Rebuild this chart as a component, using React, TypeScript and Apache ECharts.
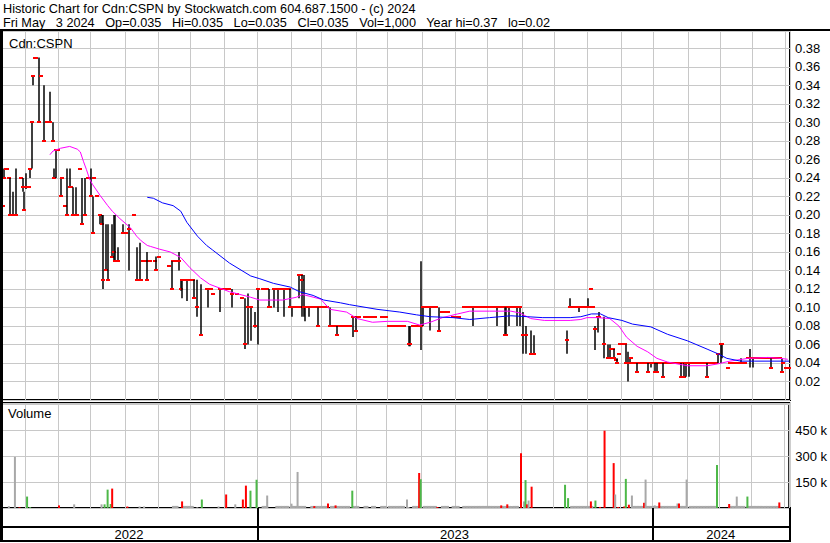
import React, { useEffect, useRef } from 'react';
import * as echarts from 'echarts';

// ---------- axis categories: weekdays from 2022-05-11 to 2024-05-03 ----------
function buildDays(): string[] {
  const out: string[] = [];
  const d = new Date(Date.UTC(2022, 4, 11));
  const end = Date.UTC(2024, 4, 3);
  while (d.getTime() <= end) {
    const wd = d.getUTCDay();
    if (wd !== 0 && wd !== 6) out.push(d.toISOString().slice(0, 10));
    d.setUTCDate(d.getUTCDate() + 1);
  }
  return out;
}
const DAYS = buildDays();

const HEADER1 = 'Historic Chart for Cdn:CSPN by Stockwatch.com 604.687.1500 - (c) 2024';
const HEADER2_FIELDS = ['Fri May\u00a0\u00a0 3 2024', 'Op=0.035', 'Hi=0.035', 'Lo=0.035', 'Cl=0.035', 'Vol=1,000', 'Year hi=0.37', 'lo=0.02'];
const HEADER2 = HEADER2_FIELDS.join('\u00a0\u00a0 ');
const PRICE_LABEL = 'Cdn:CSPN';
const VOLUME_LABEL = 'Volume';

// ---------- daily bars: [day index, open, high, low, close] ----------
const ohlc: number[][] = [
  [0, .21, .21, .21, .21], [1, .25, .25, .24, .24], [2, .25, .25, .25, .25], [3, .25, .25, .25, .25],
  [4, .24, .24, .24, .24], [5, .24, .24, .20, .20], [6, .20, .20, .20, .20], [7, .225, .225, .20, .20],
  [8, .20, .20, .20, .20], [9, .25, .25, .20, .20], [12, .24, .24, .24, .24], [13, .24, .24, .225, .23],
  [14, .225, .225, .205, .205], [15, .245, .245, .228, .23], [17, .23, .23, .23, .23], [18, .25, .25, .24, .25],
  [19, .30, .30, .25, .30], [20, .35, .35, .34, .35], [21, .37, .37, .37, .37], [22, .37, .37, .37, .37],
  [24, .35, .37, .30, .30], [25, .35, .35, .35, .35], [27, .34, .34, .28, .28], [29, .30, .30, .30, .30],
  [31, .33, .333, .30, .30], [33, .30, .30, .28, .28], [34, .25, .25, .24, .24], [35, .24, .27, .24, .27],
  [36, .27, .27, .27, .27], [38, .24, .24, .22, .22], [39, .24, .24, .24, .24], [41, .21, .21, .21, .21],
  [42, .25, .25, .20, .20], [44, .25, .25, .23, .23], [45, .23, .23, .23, .23], [46, .23, .23, .20, .20],
  [47, .20, .20, .20, .20], [48, .23, .23, .20, .20], [49, .20, .20, .20, .20], [51, .25, .25, .25, .25],
  [52, .24, .24, .19, .19], [54, .24, .24, .20, .20], [56, .24, .24, .24, .24], [57, .24, .24, .24, .24],
  [58, .25, .25, .22, .22], [59, .22, .22, .18, .18], [60, .24, .24, .24, .24], [62, .22, .22, .22, .22],
  [64, .20, .20, .19, .20], [65, .20, .20, .19, .19], [66, .20, .20, .12, .13], [68, .19, .19, .14, .14],
  [69, .19, .19, .13, .13], [72, .19, .19, .155, .155], [73, .20, .20, .15, .16], [74, .20, .20, .15, .15],
  [76, .165, .165, .15, .15], [79, .19, .19, .18, .18], [80, .18, .18, .18, .18], [81, .18, .18, .18, .18],
  [83, .185, .19, .14, .185], [86, .20, .20, .20, .20], [88, .165, .165, .13, .13], [90, .17, .17, .13, .13],
  [91, .13, .13, .13, .13], [92, .15, .15, .15, .15], [93, .15, .15, .15, .15], [94, .15, .15, .15, .15],
  [95, .16, .16, .13, .13], [97, .15, .15, .15, .15], [100, .15, .15, .15, .15], [101, .155, .155, .14, .14],
  [103, .155, .155, .155, .155], [109, .145, .145, .145, .145], [111, .15, .15, .12, .12],
  [116, .16, .16, .14, .15], [117, .13, .13, .118, .12], [118, .13, .13, .11, .13], [121, .13, .13, .107, .13],
  [126, .13, .13, .11, .11], [128, .13, .13, .09, .10], [130, .12, .125, .07, .07], [134, .12, .12, .12, .12],
  [135, .12, .12, .10, .12], [137, .12, .12, .12, .12], [138, .115, .115, .115, .115], [143, .12, .12, .095, .12],
  [145, .12, .12, .12, .12], [147, .12, .12, .12, .12], [149, .12, .12, .12, .12], [151, .12, .12, .10, .115],
  [154, .115, .115, .115, .115], [157, .11, .11, .11, .11], [159, .11, .11, .055, .06], [161, .115, .115, .06, .10],
  [163, .10, .10, .064, .10], [166, .095, .095, .078, .08], [168, .12, .12, .06, .12], [175, .12, .12, .10, .10],
  [176, .10, .10, .10, .10], [178, .10, .12, .10, .12], [181, .12, .12, .095, .12], [185, .12, .12, .09, .12],
  [189, .12, .12, .10, .10], [190, .10, .10, .09, .10], [195, .135, .135, .11, .135], [196, .135, .135, .135, .135],
  [197, .13, .135, .09, .13], [198, .135, .135, .09, .10], [199, .10, .10, .085, .10], [201, .10, .10, .09, .10],
  [207, .10, .10, .08, .08], [215, .10, .10, .08, .08], [220, .08, .08, .07, .07], [230, .09, .09, .068, .09],
  [232, .09, .09, .075, .075], [267, .08, .08, .058, .06], [268, .08, .08, .058, .06], [275, .08, .15, .054, .08],
  [276, .08, .10, .08, .10], [281, .10, .10, .075, .10], [287, .10, .10, .075, .075], [309, .10, .10, .08, .10],
  [325, .10, .10, .08, .10], [330, .10, .10, .07, .07], [331, .10, .10, .07, .07], [333, .10, .10, .08, .10],
  [338, .10, .10, .08, .10], [340, .10, .10, .08, .10], [342, .095, .095, .05, .07], [344, .08, .08, .05, .07],
  [347, .075, .075, .05, .05], [348, .05, .05, .05, .05], [349, .07, .07, .05, .05], [371, .065, .075, .05, .065],
  [373, .11, .11, .10, .10], [379, .10, .10, .095, .10], [385, .11, .11, .10, .10], [387, .12, .12, .12, .12],
  [389, .08, .08, .054, .077], [391, .09, .09, .073, .09], [392, .095, .095, .09, .09], [395, .09, .09, .045, .06],
  [398, .06, .06, .045, .045], [399, .06, .06, .045, .045], [400, .055, .055, .055, .055], [401, .055, .055, .055, .055],
  [402, .055, .055, .045, .045], [403, .043, .043, .043, .043], [404, .045, .045, .04, .04], [405, .05, .05, .05, .05],
  [410, .06, .06, .04, .04], [411, .05, .052, .02, .04], [412, .045, .045, .04, .04], [413, .045, .045, .045, .045],
  [417, .04, .04, .03, .03], [424, .04, .04, .03, .03], [426, .04, .04, .035, .04], [429, .04, .04, .03, .03],
  [430, .04, .04, .03, .03], [434, .04, .04, .025, .025], [446, .04, .04, .025, .025], [448, .04, .04, .025, .025],
  [449, .04, .04, .025, .04], [451, .04, .04, .025, .04], [463, .04, .04, .025, .025], [470, .05, .05, .04, .05],
  [472, .06, .06, .04, .06], [473, .06, .06, .045, .06], [477, .035, .035, .035, .035], [485, .045, .045, .04, .04],
  [491, .045, .055, .035, .045], [493, .045, .045, .035, .045], [505, .045, .045, .035, .035], [512, .045, .045, .03, .03],
  [513, .04, .04, .04, .04], [515, .035, .035, .035, .035], [517, .035, .035, .035, .035],
];

// runs of unchanged trades: [first day, last day, price]
const flatRuns: number[][] = [
  [112, 115, .15], [119, 125, .13], [171, 174, .12], [180, 188, .12], [190, 199, .10], [203, 213, .10],
  [216, 228, .08], [231, 234, .09], [238, 240, .09], [243, 245, .09], [249, 252, .09], [254, 264, .08],
  [270, 273, .08], [277, 285, .10], [289, 293, .095], [296, 300, .09], [303, 339, .10], [374, 388, .10],
  [406, 409, .06], [414, 449, .04], [452, 469, .04], [478, 488, .04], [490, 511, .045],
];

// moving averages: [day index, value]
const maShort: number[][] = [
  [31, .265], [33, .269], [38, .272], [44, .274], [49, .271], [51, .268], [53, .258], [55, .249], [57, .239],
  [59, .233], [64, .221], [69, .21], [72, .204], [77, .196], [84, .186], [88, .177], [91, .172], [95, .167],
  [97, .166], [103, .163], [110, .16], [117, .154], [123, .143], [130, .132], [136, .125], [149, .117],
  [163, .111], [169, .108], [184, .108], [193, .111], [197, .114], [202, .112], [209, .109], [215, .098],
  [226, .095], [233, .088], [243, .084], [253, .085], [266, .085], [274, .081], [281, .084], [289, .089],
  [299, .093], [307, .096], [320, .096], [334, .096], [340, .094], [347, .088], [356, .086], [373, .086],
  [380, .087], [384, .089], [391, .089], [399, .088], [405, .080], [410, .068], [417, .058], [424, .052],
  [430, .045], [437, .041], [450, .037], [463, .037], [470, .039], [478, .042], [490, .045], [503, .046],
  [511, .045], [516, .044],
];
const maLong: number[][] = [
  [95, .219], [99, .218], [105, .213], [112, .21], [117, .204], [121, .192], [128, .177], [134, .167],
  [138, .162], [149, .148], [163, .134], [169, .131], [178, .126], [189, .122], [195, .117], [204, .113],
  [211, .108], [222, .105], [228, .103], [246, .098], [261, .095], [272, .092], [281, .09], [296, .089],
  [307, .087], [320, .089], [334, .091], [345, .09], [355, .089], [373, .089], [380, .09], [387, .093],
  [393, .093], [398, .089], [407, .086], [414, .082], [426, .079], [437, .071], [450, .064], [463, .055],
  [470, .05], [476, .045], [485, .042], [494, .042], [507, .042], [517, .042],
];

// volume: [day index, shares, direction (1 up, -1 down, 0 unchanged)]
const volumes: number[][] = [
  [4, 11000, 0], [8, 295000, 0], [11, 4000, -1], [16, 66000, 1], [18, 5000, 1], [37, 15000, -1], [47, 21000, 0],
  [65, 21000, 0], [67, 21000, 1], [69, 106000, 1], [71, 23000, 1], [72, 112000, -1], [82, 9000, -1], [90, 9000, 0],
  [93, 9000, 0], [118, 38000, -1], [128, 4000, 0], [131, 49000, 1], [142, 9000, 0], [147, 78000, -1], [153, 21000, 0],
  [158, 49000, -1], [160, 129000, -1], [163, 100000, 1], [167, 163000, 1], [174, 72000, 0], [190, 25000, 0],
  [194, 208000, 0], [197, 4000, 0], [205, 11000, -1], [214, 26000, -1], [219, 15000, -1], [230, 100000, 1],
  [266, 49000, 0], [267, 6000, 0], [274, 202000, -1], [275, 166000, 1], [286, 6000, -1], [328, 15000, -1],
  [332, 21000, -1], [341, 316000, -1], [343, 38000, 0], [344, 161000, 1], [345, 21000, -1], [346, 43000, 0],
  [348, 123000, -1], [370, 134000, 1], [372, 57000, 1], [387, 38000, -1], [390, 43000, 1], [393, 6000, -1],
  [396, 446000, -1], [402, 259000, -1], [403, 78000, 0], [405, 6000, -1], [409, 9000, -1], [410, 168000, 1],
  [412, 19000, -1], [414, 72000, 0], [422, 30000, -1], [423, 164000, 0], [429, 15000, 0], [432, 32000, -1],
  [444, 26000, 0], [445, 26000, -1], [450, 164000, 0], [470, 248000, 1], [478, 23000, -1], [483, 66000, 0],
  [490, 66000, 1], [511, 32000, -1],
];
// small unchanged-day volumes along the runs: [first day, last day, shares]
const smallVolumeRuns: number[][] = [
  [112, 115, 12000], [119, 125, 12000], [171, 174, 12000], [180, 188, 12000], [190, 199, 12000],
  [203, 213, 12000], [216, 228, 12000], [231, 234, 12000], [238, 240, 12000], [243, 245, 12000],
  [249, 252, 12000], [254, 264, 12000], [270, 273, 12000], [277, 285, 12000], [289, 293, 12000],
  [296, 300, 12000], [303, 339, 12000], [374, 388, 12000], [414, 449, 12000], [452, 469, 12000],
  [478, 488, 12000], [490, 511, 12000],
];

const FONT = 'Liberation Sans';
const GRID_LINE = '#c8c8c8';
const RED = '#ff0000';
const GREEN = '#4db848';
const GRAY = '#a8a8a8';

function buildOption() {
  const bars: number[][] = [];
  flatRuns.forEach(([a, b, p]) => { for (let i = a; i <= b; i++) bars.push([i, p, p, p, p]); });
  ohlc.forEach((r) => bars.push(r));

  const volItems: any[] = [];
  smallVolumeRuns.forEach(([a, b, v]) => {
    for (let i = a; i <= b; i++) volItems.push({ value: [i, v], itemStyle: { color: GRAY } });
  });
  volumes.forEach(([i, v, d]) => {
    volItems.push({ value: [i, v], itemStyle: { color: d > 0 ? GREEN : d < 0 ? RED : GRAY } });
  });

  const monthStart = (i: number) => i > 0 && DAYS[i].slice(5, 7) !== DAYS[i - 1].slice(5, 7);
  const yearStart = (i: number) => i > 0 && DAYS[i].slice(0, 4) !== DAYS[i - 1].slice(0, 4);
  const yearMids = new Set<number>();
  let first = 0;
  for (let i = 1; i <= DAYS.length; i++) {
    if (i === DAYS.length || yearStart(i)) {
      yearMids.add(Math.floor((first + i - 1) / 2));
      first = i;
    }
  }

  const baseX = (gridIndex: number, splitFn: (i: number) => boolean, color: string, width: number) => ({
    type: 'category', gridIndex, data: DAYS, boundaryGap: true,
    axisLine: { show: false }, axisTick: { show: false }, axisLabel: { show: false },
    splitLine: { show: true, interval: (i: number) => splitFn(i), lineStyle: { color, width } },
  });

  const xAxis: any[] = [
    baseX(0, monthStart, GRID_LINE, 1),
    baseX(1, monthStart, GRID_LINE, 1),
    baseX(2, yearStart, '#000', 2),
    {
      ...baseX(3, yearStart, '#000', 2),
      position: 'top',
      axisLabel: {
        show: true, inside: true, margin: 1, interval: (i: number) => yearMids.has(i),
        formatter: (v: string) => v.slice(0, 4), color: '#000', fontSize: 13, fontFamily: FONT,
      },
    },
  ];

  const yAxis: any[] = [
    {
      type: 'value', gridIndex: 0, position: 'right', min: 0, max: 0.3987, interval: 0.02,
      axisLine: { show: false }, axisTick: { show: false },
      splitLine: { show: true, lineStyle: { color: GRID_LINE, width: 1 } },
      axisLabel: {
        color: '#000', fontSize: 13, fontFamily: FONT, margin: 5,
        formatter: (v: number) => (v < 0.001 || v > 0.385 ? '' : v.toFixed(2)),
      },
    },
    {
      type: 'value', gridIndex: 1, position: 'right', min: 0, max: 605769, interval: 150000,
      axisLine: { show: false }, axisTick: { show: false },
      splitLine: { show: true, lineStyle: { color: GRID_LINE, width: 1 } },
      axisLabel: {
        color: '#000', fontSize: 13, fontFamily: FONT, margin: 6,
        formatter: (v: number) => (v <= 0 || v > 500000 ? '' : `${Math.round(v / 1000)} k`),
      },
    },
    { type: 'value', gridIndex: 2, show: false, min: 0, max: 1 },
    { type: 'value', gridIndex: 3, show: false, min: 0, max: 1 },
  ];

  const gridBase = { left: 2, width: 788, show: true, borderColor: '#000', borderWidth: 2, backgroundColor: '#fff' };

  return {
    animation: false,
    backgroundColor: '#fff',
    textStyle: { fontFamily: FONT },
    grid: [
      { ...gridBase, top: 31, height: 369 },
      { ...gridBase, top: 403, height: 105 },
      { ...gridBase, top: 508, height: 19 },
      { ...gridBase, top: 527, height: 14 },
    ],
    xAxis,
    yAxis,
    graphic: [
      { type: 'rect', shape: { x: 0, y: 29, width: 830, height: 2 }, style: { fill: '#000' }, z: 100 },
      { type: 'rect', shape: { x: 0, y: 29, width: 3, height: 513 }, style: { fill: '#000' }, z: 100 },
      { type: 'text', x: 3, y: 2, style: { text: HEADER1, fill: '#000', fontSize: 12.7, fontFamily: FONT, verticalAlign: 'top' }, z: 100 },
      { type: 'text', x: 3, y: 16, style: { text: HEADER2, fill: '#000', fontSize: 12.7, fontFamily: FONT, verticalAlign: 'top' }, z: 100 },
      { type: 'text', x: 9, y: 37, style: { text: PRICE_LABEL, fill: '#000', fontSize: 13, fontFamily: FONT, verticalAlign: 'top' }, z: 100 },
      { type: 'text', x: 8, y: 407, style: { text: VOLUME_LABEL, fill: '#000', fontSize: 13, fontFamily: FONT, verticalAlign: 'top' }, z: 100 },
    ],
    series: [
      {
        type: 'custom', xAxisIndex: 0, yAxisIndex: 0, data: bars, encode: { x: 0, y: [1, 2, 3, 4] },
        renderItem: (_p: any, api: any) => {
          const i = api.value(0);
          const ph = api.coord([i, api.value(2)]);
          const pl = api.coord([i, api.value(3)]);
          const pc = api.coord([i, api.value(4)]);
          const x = Math.round(ph[0]);
          const children: any[] = [];
          if (pl[1] - ph[1] > 0.5) {
            children.push({ type: 'rect', shape: { x: x - 0.75, y: ph[1], width: 1.5, height: pl[1] - ph[1] }, style: { fill: '#000' } });
          }
          children.push({ type: 'rect', shape: { x: x - 2, y: Math.round(pc[1]) - 1, width: 4, height: 2 }, style: { fill: RED } });
          return { type: 'group', children };
        },
      },
      {
        type: 'line', xAxisIndex: 0, yAxisIndex: 0, data: maShort, symbol: 'none',
        lineStyle: { color: '#ff00ff', width: 1 }, z: 5,
      },
      {
        type: 'line', xAxisIndex: 0, yAxisIndex: 0, data: maLong, symbol: 'none',
        lineStyle: { color: '#0000ff', width: 1 }, z: 5,
      },
      {
        type: 'bar', xAxisIndex: 1, yAxisIndex: 1, data: volItems, barWidth: 2, barGap: '-100%',
      },
    ],
  };
}

export default function App() {
  const ref = useRef<HTMLDivElement>(null);
  useEffect(() => {
    const chart = echarts.init(ref.current!, null, { renderer: 'svg' });
    chart.setOption(buildOption() as any);
    return () => chart.dispose();
  }, []);
  return (
    <div
      ref={ref}
      style={{ position: 'absolute', left: 0, top: 0, width: 830, height: 543, background: '#fff' }}
    />
  );
}
